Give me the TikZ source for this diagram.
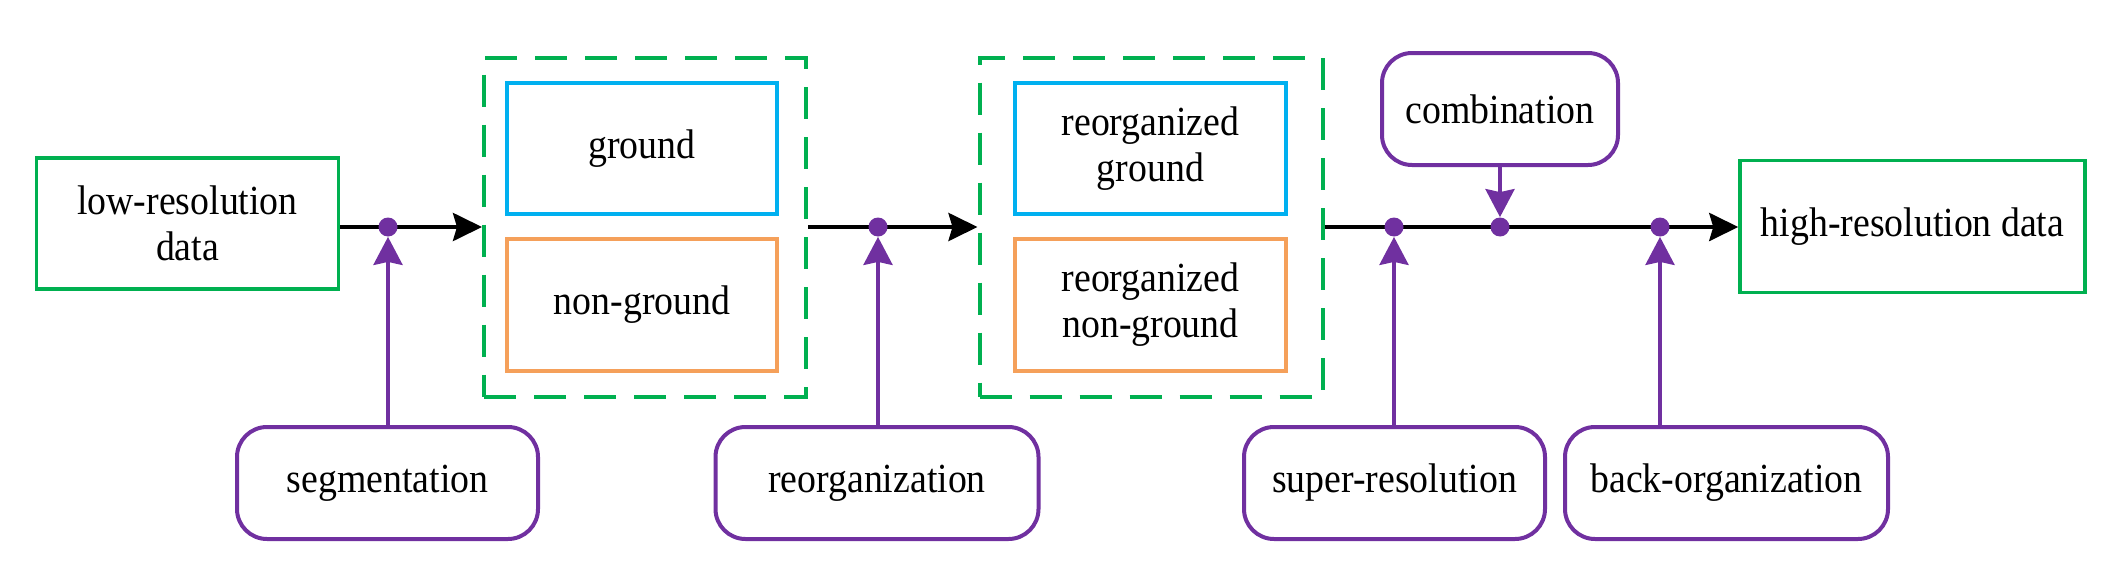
\documentclass[tikz,border=0pt]{standalone}
\usepackage{fontspec}
\setmainfont{Liberation Serif}
\newfontfamily\diafont{Liberation Serif}[FakeStretch=0.913]
\usetikzlibrary{arrows.meta}
\definecolor{boxgreen}{RGB}{0,176,80}
\definecolor{boxblue}{RGB}{0,176,240}
\definecolor{boxorange}{RGB}{245,160,90}
\definecolor{boxpurple}{RGB}{112,48,160}
\tikzset{
  txt/.style={font=\diafont\fontsize{20.7}{23}\selectfont, align=center, inner sep=0pt},
  greenbox/.style={txt, draw=boxgreen, line width=1.75pt, rectangle},
  bluebox/.style={txt, draw=boxblue, line width=1.75pt, rectangle, minimum width=135pt, minimum height=65.5pt},
  orangebox/.style={txt, draw=boxorange, line width=1.75pt, rectangle, minimum width=135pt, minimum height=66pt},
  dashbox/.style={draw=boxgreen, line width=2pt, dash pattern=on 16pt off 9pt, rectangle, inner sep=0pt, minimum height=169.5pt},
  opbox/.style={txt, draw=boxpurple, line width=2pt, rectangle, rounded corners=15pt, minimum height=56pt},
  dotnode/.style={circle, fill=boxpurple, inner sep=0pt, minimum size=9.5pt},
  mainline/.style={line width=2pt, draw=black, -{Stealth[length=14.5pt,width=14pt,inset=2pt]}},
  oparrow/.style={line width=1.9pt, draw=boxpurple, -{Stealth[length=14pt,width=14.5pt,inset=1.5pt]}}
}
\begin{document}
\begin{tikzpicture}[x=0.5pt,y=-0.5pt]
\useasboundingbox (0,0) rectangle (2120,562);
% input / output
\node[greenbox, minimum width=151pt, minimum height=65.5pt] (lowres) at (187.5,223.5) {low-resolution\\data};
\node[greenbox, minimum width=172.5pt, minimum height=66pt] (highres) at (1912.5,226.5) {high-resolution data};
% dashed groups
\node[dashbox, minimum width=161pt] (dashA) at (645,227) {};
\node[dashbox, minimum width=171.5pt] (dashB) at (1151,227) {};
\node[bluebox] (ground) at (642,148.5) {ground};
\node[orangebox] (nonground) at (642,305) {non-ground};
\node[bluebox, minimum width=135.5pt] (rground) at (1150.5,148.5) {reorganized\\ground};
\node[orangebox, minimum width=135.5pt] (rnonground) at (1150.5,305) {reorganized\\non-ground};
% operation boxes
\node[opbox, minimum width=118pt] (combo) at (1500,109) {combination};
\node[opbox, minimum width=150.5pt] (seg) at (387.5,483) {segmentation};
\node[opbox, minimum width=161.5pt] (reorg) at (877,483) {reorganization};
\node[opbox, minimum width=150.5pt] (superres) at (1394.5,483) {super-resolution};
\node[opbox, minimum width=161.5pt] (backorg) at (1726.5,483) {back-organization};
% junction dots
\coordinate (j1) at (388,227);
\coordinate (j2) at (878,227);
\coordinate (j3) at (1394,227);
\coordinate (j4) at (1500,227);
\coordinate (j5) at (1660,227);
% main flow
\draw[mainline] (lowres.east |- j1) -- (dashA.west |- j1);
\draw[mainline] (dashA.east |- j2) -- (dashB.west |- j2);
\draw[mainline] (dashB.east |- j3) -- (highres.west |- j3);
% dots
\node[dotnode] (d1) at (j1) {};
\node[dotnode] (d2) at (j2) {};
\node[dotnode] (d3) at (j3) {};
\node[dotnode] (d4) at (j4) {};
\node[dotnode] (d5) at (j5) {};
% operation arrows
\draw[oparrow] (seg.north -| d1) -- (d1.south);
\draw[oparrow] (reorg.north -| d2) -- (d2.south);
\draw[oparrow] (superres.north -| d3) -- (d3.south);
\draw[oparrow] (combo.south -| d4) -- (d4.north);
\draw[oparrow] (backorg.north -| d5) -- (d5.south);
\end{tikzpicture}
\end{document}
